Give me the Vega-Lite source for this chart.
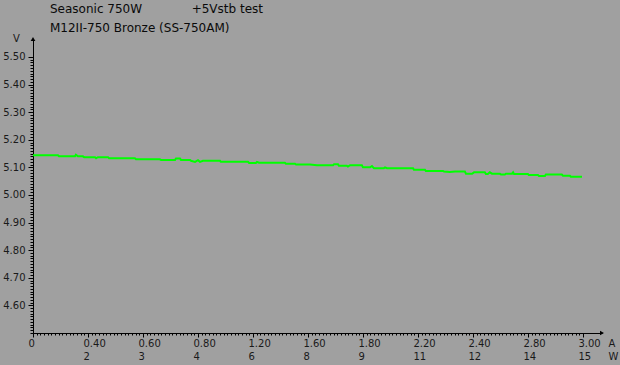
{
  "$schema": "https://vega.github.io/schema/vega-lite/v6.json",
  "width": 569,
  "height": 294,
  "autosize": {"type": "none"},
  "padding": {"left": 33, "top": 39, "right": 18, "bottom": 32},
  "background": "#a0a0a0",
  "config": {
    "view": {"stroke": null},
    "font": "DejaVu Sans",
    "axis": {"domainColor": "#000000", "tickColor": "#000000", "grid": false, "labelColor": "#1a1a1a", "labelFont": "DejaVu Sans", "labelFontSize": 10, "titleFont": "DejaVu Sans", "titleFontSize": 10, "titleFontWeight": "normal", "titleColor": "#1a1a1a"}
  },
  "title": {
    "text": ["Seasonic 750W\u00a0\u00a0\u00a0\u00a0\u00a0\u00a0\u00a0\u00a0\u00a0\u00a0\u00a0\u00a0\u00a0+5Vstb test", "M12II-750 Bronze (SS-750AM)"],
    "anchor": "start",
    "frame": "group",
    "dx": 17,
    "offset": -2,
    "font": "DejaVu Sans",
    "fontSize": 12,
    "fontWeight": "normal",
    "color": "#0a0a0a",
    "lineHeight": 19
  },
  "resolve": {"axis": {"x": "independent", "y": "independent"}},
  "layer": [
    {
      "data": {"values": [
        {"A": 0.000, "V": 5.144}, {"A": 0.136, "V": 5.144}, {"A": 0.142, "V": 5.140}, {"A": 0.229, "V": 5.140},
        {"A": 0.234, "V": 5.146}, {"A": 0.245, "V": 5.140}, {"A": 0.272, "V": 5.140}, {"A": 0.279, "V": 5.137},
        {"A": 0.338, "V": 5.137}, {"A": 0.344, "V": 5.133}, {"A": 0.354, "V": 5.137}, {"A": 0.409, "V": 5.137},
        {"A": 0.415, "V": 5.133}, {"A": 0.556, "V": 5.133}, {"A": 0.562, "V": 5.129}, {"A": 0.692, "V": 5.129},
        {"A": 0.698, "V": 5.127}, {"A": 0.775, "V": 5.127}, {"A": 0.780, "V": 5.132}, {"A": 0.802, "V": 5.132},
        {"A": 0.807, "V": 5.127}, {"A": 0.857, "V": 5.127}, {"A": 0.862, "V": 5.124}, {"A": 0.884, "V": 5.120},
        {"A": 0.900, "V": 5.126}, {"A": 0.911, "V": 5.120}, {"A": 0.927, "V": 5.124}, {"A": 1.020, "V": 5.124},
        {"A": 1.025, "V": 5.120}, {"A": 1.173, "V": 5.120}, {"A": 1.179, "V": 5.116}, {"A": 1.216, "V": 5.116},
        {"A": 1.222, "V": 5.120}, {"A": 1.233, "V": 5.117}, {"A": 1.374, "V": 5.117}, {"A": 1.380, "V": 5.113},
        {"A": 1.429, "V": 5.113}, {"A": 1.435, "V": 5.110}, {"A": 1.511, "V": 5.110}, {"A": 1.549, "V": 5.108},
        {"A": 1.637, "V": 5.108}, {"A": 1.642, "V": 5.111}, {"A": 1.664, "V": 5.111}, {"A": 1.669, "V": 5.106},
        {"A": 1.712, "V": 5.106}, {"A": 1.718, "V": 5.103}, {"A": 1.730, "V": 5.108}, {"A": 1.794, "V": 5.108},
        {"A": 1.800, "V": 5.100}, {"A": 1.839, "V": 5.100}, {"A": 1.849, "V": 5.105}, {"A": 1.860, "V": 5.097},
        {"A": 1.914, "V": 5.097}, {"A": 1.920, "V": 5.100}, {"A": 1.931, "V": 5.097}, {"A": 2.073, "V": 5.097},
        {"A": 2.078, "V": 5.091}, {"A": 2.138, "V": 5.091}, {"A": 2.143, "V": 5.087}, {"A": 2.236, "V": 5.087},
        {"A": 2.242, "V": 5.085}, {"A": 2.274, "V": 5.083}, {"A": 2.302, "V": 5.085}, {"A": 2.356, "V": 5.085},
        {"A": 2.362, "V": 5.077}, {"A": 2.395, "V": 5.077}, {"A": 2.406, "V": 5.082}, {"A": 2.465, "V": 5.082},
        {"A": 2.471, "V": 5.076}, {"A": 2.481, "V": 5.076}, {"A": 2.492, "V": 5.082}, {"A": 2.504, "V": 5.077},
        {"A": 2.547, "V": 5.077}, {"A": 2.553, "V": 5.074}, {"A": 2.574, "V": 5.074}, {"A": 2.580, "V": 5.077},
        {"A": 2.613, "V": 5.077}, {"A": 2.619, "V": 5.082}, {"A": 2.624, "V": 5.076}, {"A": 2.700, "V": 5.076},
        {"A": 2.705, "V": 5.072}, {"A": 2.755, "V": 5.072}, {"A": 2.760, "V": 5.069}, {"A": 2.793, "V": 5.069},
        {"A": 2.798, "V": 5.074}, {"A": 2.885, "V": 5.074}, {"A": 2.891, "V": 5.070}, {"A": 2.929, "V": 5.070},
        {"A": 2.934, "V": 5.066}, {"A": 2.995, "V": 5.066}
      ]},
      "mark": {"type": "line", "color": "#00ff00", "strokeWidth": 2, "interpolate": "linear"},
      "encoding": {
        "x": {"field": "A", "type": "quantitative", "scale": {"domain": [0, 3.104], "nice": false, "zero": false},
          "axis": {"orient": "bottom", "values": [0, 0.3, 0.6, 0.9, 1.2, 1.5, 1.8, 2.1, 2.4, 2.7, 3.0], "tickSize": 4,
            "labelAlign": "left", "labelOffset": -5, "labelBaseline": "top", "labelPadding": 1, "labelLineHeight": 13,
            "labelFlush": false, "labelOverlap": false,
            "labelExpr": "[['0',''],['0.40','2'],['0.60','3'],['0.80','4'],['1.20','6'],['1.60','8'],['1.80','9'],['2.20','11'],['2.40','12'],['2.80','14'],['3.00','15']][round(datum.value/0.3)]",
            "title": ["A", "W"], "titleX": 575, "titleY": 5, "titleAlign": "left", "titleBaseline": "top", "titleLineHeight": 13, "titleAnchor": null}},
        "y": {"field": "V", "type": "quantitative", "scale": {"domain": [4.5, 5.565], "nice": false, "zero": false},
          "axis": {"orient": "left", "values": [4.6, 4.7, 4.8, 4.9, 5.0, 5.1, 5.2, 5.3, 5.4, 5.5], "format": ".2f", "tickSize": 5, "labelPadding": 3,
            "title": "V", "titleAngle": 0, "titleX": -17, "titleY": -1, "titleAlign": "center", "titleBaseline": "middle"}}
      }
    },
    {
      "data": {"values": [
        {"A": 3.104, "V": 4.5, "s": "triangle-right"},
        {"A": 0, "V": 5.565, "s": "triangle-up"}
      ]},
      "mark": {"type": "point", "filled": true, "color": "#000000", "size": 22, "opacity": 1},
      "encoding": {
        "x": {"field": "A", "type": "quantitative",
          "axis": {"orient": "bottom", "labels": false, "domain": false, "title": null, "tickSize": 2,
            "values": [0,0.02,0.04,0.06,0.08,0.1,0.12,0.14,0.16,0.18,0.2,0.22,0.24,0.26,0.28,0.3,0.32,0.34,0.36,0.38,0.4,0.42,0.44,0.46,0.48,0.5,0.52,0.54,0.56,0.58,0.6,0.62,0.64,0.66,0.68,0.7,0.72,0.74,0.76,0.78,0.8,0.82,0.84,0.86,0.88,0.9,0.92,0.94,0.96,0.98,1,1.02,1.04,1.06,1.08,1.1,1.12,1.14,1.16,1.18,1.2,1.22,1.24,1.26,1.28,1.3,1.32,1.34,1.36,1.38,1.4,1.42,1.44,1.46,1.48,1.5,1.52,1.54,1.56,1.58,1.6,1.62,1.64,1.66,1.68,1.7,1.72,1.74,1.76,1.78,1.8,1.82,1.84,1.86,1.88,1.9,1.92,1.94,1.96,1.98,2,2.02,2.04,2.06,2.08,2.1,2.12,2.14,2.16,2.18,2.2,2.22,2.24,2.26,2.28,2.3,2.32,2.34,2.36,2.38,2.4,2.42,2.44,2.46,2.48,2.5,2.52,2.54,2.56,2.58,2.6,2.62,2.64,2.66,2.68,2.7,2.72,2.74,2.76,2.78,2.8,2.82,2.84,2.86,2.88,2.9,2.92,2.94,2.96,2.98,3]}},
        "y": {"field": "V", "type": "quantitative",
          "axis": {"orient": "left", "labels": false, "domain": false, "title": null, "tickSize": 3,
            "values": [4.5,4.51,4.52,4.53,4.54,4.55,4.56,4.57,4.58,4.59,4.6,4.61,4.62,4.63,4.64,4.65,4.66,4.67,4.68,4.69,4.7,4.71,4.72,4.73,4.74,4.75,4.76,4.77,4.78,4.79,4.8,4.81,4.82,4.83,4.84,4.85,4.86,4.87,4.88,4.89,4.9,4.91,4.92,4.93,4.94,4.95,4.96,4.97,4.98,4.99,5,5.01,5.02,5.03,5.04,5.05,5.06,5.07,5.08,5.09,5.1,5.11,5.12,5.13,5.14,5.15,5.16,5.17,5.18,5.19,5.2,5.21,5.22,5.23,5.24,5.25,5.26,5.27,5.28,5.29,5.3,5.31,5.32,5.33,5.34,5.35,5.36,5.37,5.38,5.39,5.4,5.41,5.42,5.43,5.44,5.45,5.46,5.47,5.48,5.49,5.5]}},
        "shape": {"field": "s", "type": "nominal", "scale": null, "legend": null}
      }
    }
  ]
}
